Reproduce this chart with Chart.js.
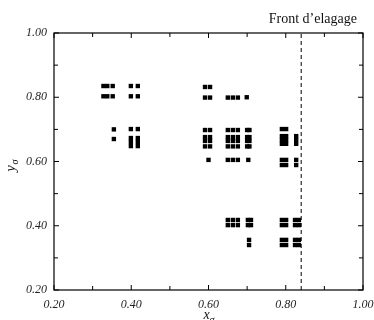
<!DOCTYPE html>
<html><head><meta charset="utf-8">
<script src="https://cdn.jsdelivr.net/npm/chart.js@4"></script>
<style>html,body{margin:0;padding:0;background:#fff}</style>
</head><body>
<canvas id="c" width="374" height="320"></canvas>
<script>
// Pareto solutions (x_sigma, y_sigma)
const paretoX = [
  0.328,0.338,0.352,0.328,0.338,0.352,
  0.399,0.417,0.399,0.417,
  0.355,0.355,
  0.399,0.417,0.399,0.417,0.399,0.417,0.399,0.417,
  0.591,0.604,0.591,0.604,0.591,0.604,0.591,0.604,0.591,0.604,0.591,0.604,0.600,
  0.650,0.663,0.676, 0.650,0.663,0.676, 0.650,0.663,0.676, 0.650,0.663,0.676, 0.650,0.663,0.676, 0.650,0.663,0.676, 0.650,0.663,0.676, 0.650,0.663,0.676,
  0.699, 0.700,0.706,0.700,0.706,0.700,0.706,0.700,0.706, 0.703, 0.702,0.710,0.702,0.710, 0.705,0.705,
  0.790,0.801,0.790,0.801,0.790,0.801,0.790,0.801,0.790,0.801,0.790,0.801,0.790,0.801,0.790,0.801,0.790,0.801,0.790,0.801,
  0.827,0.827,0.827,0.827,0.827,
  0.824,0.834,0.824,0.834,0.824,0.834,0.824,0.834
];
const paretoY = [
  0.835,0.835,0.835,0.803,0.803,0.803,
  0.835,0.835,0.803,0.803,
  0.700,0.670,
  0.701,0.701,0.673,0.673,0.661,0.661,0.648,0.648,
  0.832,0.832,0.799,0.799,0.698,0.698,0.676,0.676,0.664,0.664,0.647,0.647,0.605,
  0.799,0.799,0.799, 0.698,0.698,0.698, 0.676,0.676,0.676, 0.664,0.664,0.664, 0.647,0.647,0.647, 0.605,0.605,0.605, 0.418,0.418,0.418, 0.402,0.402,0.402,
  0.800, 0.698,0.698,0.676,0.676,0.664,0.664,0.647,0.647, 0.605, 0.418,0.418,0.402,0.402, 0.356,0.340,
  0.701,0.701,0.679,0.679,0.667,0.667,0.655,0.655,0.605,0.605,0.589,0.589,0.418,0.418,0.402,0.402,0.356,0.356,0.340,0.340,
  0.679,0.667,0.655,0.605,0.589,
  0.418,0.418,0.402,0.402,0.356,0.356,0.340,0.340
];
const frontX = 0.84;
const frontY = [0.20, 1.00];
const axisMin = 0.20, axisMax = 1.00;
const tickValues = [0.2,0.3,0.4,0.5,0.6,0.7,0.8,0.9,1.0];
const titleText = 'Front d\u2019elagage';

const pts = paretoX.map((x, i) => ({x: x, y: paretoY[i]}));
const frontPts = frontY.map(y => ({x: frontX, y: y}));

const decor = {
  id: 'decor',
  afterDraw(chart) {
    const ctx = chart.ctx, a = chart.chartArea;
    const xs = chart.scales.x, ys = chart.scales.y;
    ctx.save();
    ctx.strokeStyle = '#000';
    ctx.lineWidth = 1.2;
    ctx.strokeRect(a.left, a.top, a.right - a.left, a.bottom - a.top);
    ctx.lineWidth = 1;
    tickValues.forEach(v => {
      const major = Math.round(v * 10) % 2 === 0;
      const len = major ? 5 : 4;
      const px = xs.getPixelForValue(v), py = ys.getPixelForValue(v);
      ctx.beginPath();
      ctx.moveTo(px, a.bottom); ctx.lineTo(px, a.bottom - len);
      ctx.moveTo(px, a.top); ctx.lineTo(px, a.top + len);
      ctx.moveTo(a.left, py); ctx.lineTo(a.left + len, py);
      ctx.moveTo(a.right, py); ctx.lineTo(a.right - len, py);
      ctx.stroke();
    });
    ctx.fillStyle = '#111';
    ctx.font = '14px "Liberation Serif"';
    ctx.textAlign = 'right';
    ctx.textBaseline = 'alphabetic';
    ctx.fillText(titleText, 357, 23);
    // x axis title
    const cx = (a.left + a.right) / 2;
    ctx.textAlign = 'left';
    ctx.font = 'italic 14px "Liberation Serif"';
    ctx.fillText('x', cx - 5, 319);
    ctx.font = 'italic 10px "Liberation Serif"';
    ctx.fillText('\u03c3', cx + 1, 323);
    // y axis title
    const cy = (a.top + a.bottom) / 2 + 5;
    ctx.translate(15, cy);
    ctx.rotate(-Math.PI / 2);
    ctx.font = 'italic 14px "Liberation Serif"';
    ctx.fillText('y', -5, 0);
    ctx.font = 'italic 10px "Liberation Serif"';
    ctx.fillText('\u03c3', 2, 3);
    ctx.restore();
  }
};

const tickFont = {family: '"Liberation Serif"', style: 'italic', size: 12};
new Chart(document.getElementById('c'), {
  type: 'scatter',
  data: {
    datasets: [
      {data: pts, pointStyle: 'rect', pointRadius: 3.1, pointHoverRadius: 3.1,
       backgroundColor: '#000', borderColor: '#000', borderWidth: 0},
      {data: frontPts, showLine: true, borderColor: '#000', borderWidth: 1,
       borderDash: [4, 3], pointRadius: 0, fill: false}
    ]
  },
  options: {
    responsive: false,
    animation: false,
    devicePixelRatio: 1,
    layout: {padding: {top: 33, right: 11, left: 0, bottom: 0}},
    plugins: {legend: {display: false}, tooltip: {enabled: false}, title: {display: false}},
    scales: {
      x: {
        type: 'linear', min: axisMin, max: axisMax,
        ticks: {stepSize: 0.2, callback: v => v.toFixed(2), font: tickFont, color: '#222', padding: 8, maxRotation: 0},
        grid: {display: false, drawTicks: false},
        border: {display: false},
        afterFit: s => { s.height = 30; s.paddingLeft = 0; s.paddingRight = 0; }
      },
      y: {
        type: 'linear', min: axisMin, max: axisMax,
        ticks: {stepSize: 0.2, callback: v => v.toFixed(2), font: tickFont, color: '#222', padding: 7},
        grid: {display: false, drawTicks: false},
        border: {display: false},
        afterFit: s => { s.width = 54; s.paddingTop = 0; s.paddingBottom = 0; }
      }
    }
  },
  plugins: [decor]
});
</script>
</body></html>
